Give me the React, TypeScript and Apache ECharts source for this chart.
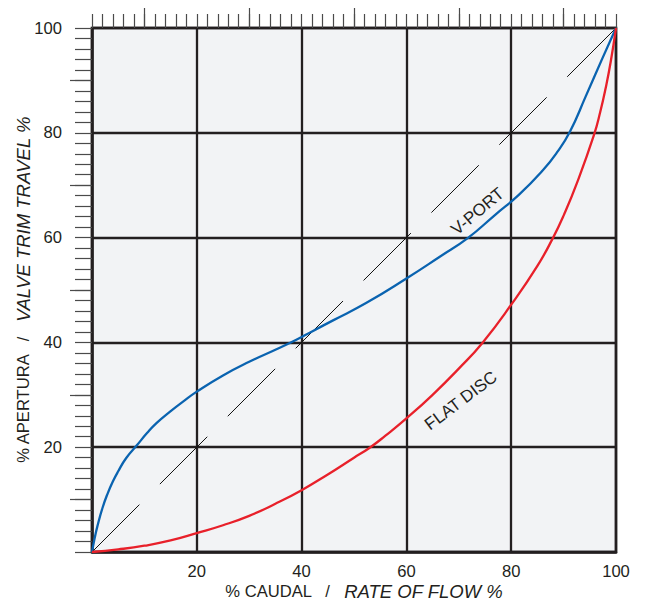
import React, { useEffect, useRef } from "react";
import * as echarts from "echarts";

const xTickLabels = ["", "20", "40", "60", "80", "100"];
const yTickLabels = ["", "20", "40", "60", "80", "100"];

const vPort: [number, number][] = [
  [0, 0], [0.5, 2.6], [1, 4.8], [2, 8.4], [3, 11.2], [4, 13.5], [5, 15.4],
  [6.5, 17.9], [8.6, 20.4], [10.5, 22.7], [12.3, 24.6], [14.9, 26.8],
  [17.5, 28.8], [20, 30.6], [25, 33.7], [30, 36.3], [35, 38.6], [39, 40.5],
  [42, 42.1], [46, 44.2], [52.3, 47.5], [60, 52.2], [66.3, 56.3], [71.7, 59.9],
  [77, 64.4], [81.5, 68.2], [86, 72.8], [88.7, 76.2], [91.2, 80.2],
  [94.2, 86.9], [97.4, 94.2], [100, 100],
];

const flatDisc: [number, number][] = [
  [0, 0], [5, 0.5], [10, 1.2], [15, 2.2], [20, 3.6], [25, 5.1], [30, 6.9],
  [35, 9.2], [40, 11.8], [45, 14.8], [50, 18], [53, 19.9], [56, 22.2],
  [60, 25.5], [65, 30], [70, 35], [74.5, 39.9], [80, 47.2], [85, 54.6],
  [88, 60], [90, 64.2], [92.5, 70.3], [95.8, 79.6], [97, 84], [98, 88.4],
  [99, 93.6], [100, 100],
];

const linear: [number, number][] = [[0, 0], [100, 100]];

const shortTicks = Array.from({ length: 51 }, (_, i) => i * 2);
const longTicks = [10, 30, 50, 70, 90];

const curveLabels = [
  { text: "V-PORT", x: 73.6, y: 65.0, angle: 40 },
  { text: "FLAT DISC", x: 70.4, y: 28.9, angle: 37 },
];

const FONT = "'Liberation Sans', Arial, Helvetica, sans-serif";
const INK = "#231f20";
const TICK = "#4a4a4a";

export default function App() {
  const ref = useRef<HTMLDivElement>(null);

  useEffect(() => {
    document.body.style.margin = "0";
    const chart = echarts.init(ref.current!, null, { renderer: "svg" });
    const rect = { left: 92, right: 30, top: 28, bottom: 52, outerBoundsMode: "none", containLabel: false };

    const tickAxis = (gridIndex: number, position: string, values: number[], length: number) => ({
      type: "value" as const,
      gridIndex,
      min: 0,
      max: 100,
      position,
      axisLine: { show: false, onZero: false },
      axisLabel: { show: false },
      splitLine: { show: false },
      axisTick: {
        show: true,
        inside: false,
        length,
        customValues: values,
        lineStyle: { color: TICK, width: 1.2 },
      },
    });

    const richName = {
      a: { fontSize: 16.6, color: INK, fontFamily: FONT },
      b: { fontSize: 18.5, color: INK, fontFamily: FONT, fontStyle: "italic" },
    };

    chart.setOption({
      animation: false,
      textStyle: { fontFamily: FONT },
      grid: [
        {
          ...rect,
          show: true,
          backgroundColor: "#f2f3f5",
          borderColor: INK,
          borderWidth: 2.6,
        },
        { ...rect, show: false },
        { ...rect, show: false },
      ],
      xAxis: [
        {
          type: "value",
          gridIndex: 0,
          min: 0,
          max: 100,
          interval: 20,
          position: "bottom",
          axisLine: { show: true, onZero: false, lineStyle: { color: INK, width: 2.6 } },
          axisTick: { show: false },
          axisLabel: {
            margin: 11,
            fontSize: 16.6,
            color: INK,
            fontFamily: FONT,
            formatter: (v: number) => xTickLabels[Math.round(v / 20)],
          },
          splitLine: { show: true, lineStyle: { color: INK, width: 2.3 } },
          name: "{a|% CAUDAL   /   }{b|RATE OF FLOW %}",
          nameLocation: "middle",
          nameGap: 30,
          nameMoveOverlap: false,
          nameTextStyle: { padding: [0, 0, 0, 20], rich: richName },
        },
        tickAxis(1, "top", shortTicks, 14),
        tickAxis(2, "top", longTicks, 20),
      ],
      yAxis: [
        {
          type: "value",
          gridIndex: 0,
          min: 0,
          max: 100,
          interval: 20,
          position: "left",
          axisLine: { show: true, onZero: false, lineStyle: { color: INK, width: 2.6 } },
          axisTick: { show: false },
          axisLabel: {
            margin: 30,
            fontSize: 16.6,
            color: INK,
            fontFamily: FONT,
            formatter: (v: number) => yTickLabels[Math.round(v / 20)],
          },
          splitLine: { show: true, lineStyle: { color: INK, width: 2.3 } },
          name: "{a|% APERTURA   /   }{b|VALVE TRIM TRAVEL %}",
          nameLocation: "middle",
          nameGap: 59,
          nameRotate: 90,
          nameMoveOverlap: false,
          nameTextStyle: { rich: richName },
        },
        tickAxis(1, "left", shortTicks, 17),
        tickAxis(2, "left", longTicks, 22),
      ],
      series: [
        {
          type: "line",
          data: linear,
          symbol: "none",
          silent: true,
          lineStyle: { color: "#111", width: 1, type: [67, 29] },
          z: 3,
        },
        {
          name: "V-PORT",
          type: "line",
          data: vPort,
          smooth: 0.5,
          symbol: "none",
          lineStyle: { color: "#0a63b0", width: 2.3 },
          z: 4,
        },
        {
          name: "FLAT DISC",
          type: "line",
          data: flatDisc,
          smooth: 0.5,
          symbol: "none",
          lineStyle: { color: "#e8202a", width: 2.3 },
          z: 4,
        },
      ],
    });

    const graphics = curveLabels.map((l) => {
      const p = chart.convertToPixel({ xAxisIndex: 0, yAxisIndex: 0 }, [l.x, l.y]) as number[];
      return {
        type: "text",
        x: p[0],
        y: p[1],
        rotation: (l.angle * Math.PI) / 180,
        z: 10,
        style: {
          text: l.text,
          fontSize: 17,
          fontFamily: FONT,
          fill: INK,
          align: "center",
          verticalAlign: "middle",
        },
      };
    });
    chart.setOption({ graphic: graphics });

    return () => chart.dispose();
  }, []);

  return (
    <div
      ref={ref}
      style={{ position: "absolute", left: 0, top: 0, width: 646, height: 604 }}
    />
  );
}
